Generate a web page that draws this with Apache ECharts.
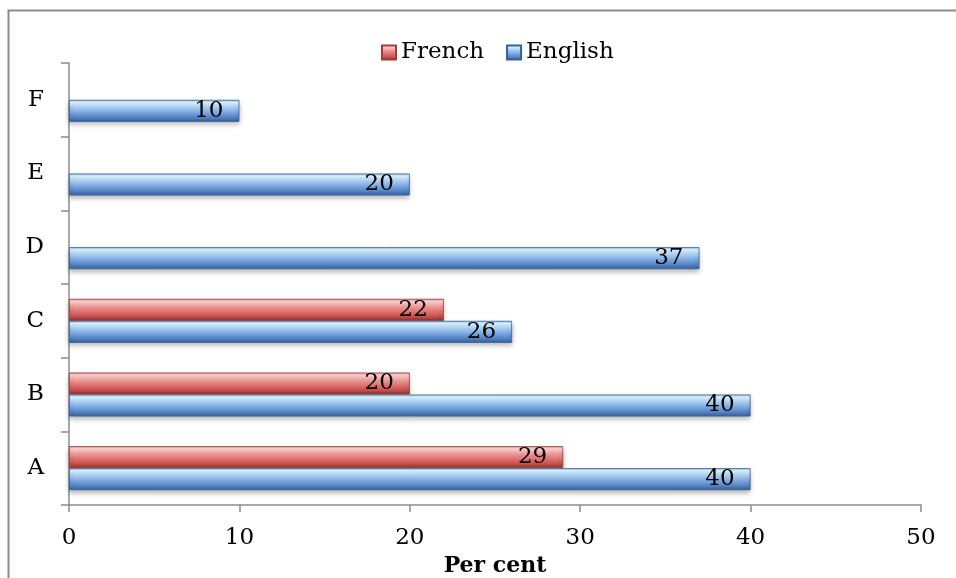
<!DOCTYPE html>
<html>
<head>
<meta charset="utf-8">
<script src="https://cdn.jsdelivr.net/npm/echarts@6/dist/echarts.min.js"></script>
<style>
  html, body { margin: 0; padding: 0; background: #fff; }
  #myChart { width: 956px; height: 578px; }
</style>
</head>
<body>
<div id="myChart"></div>
<script>
  // data
  let categories = ['A', 'B', 'C', 'D', 'E', 'F'];
  let french = [29, 20, 22, null, null, null];
  let english = [40, 40, 26, 37, 20, 10];
  let xTicks = [0, 10, 20, 30, 40, 50];

  let font = 'DejaVu Serif';
  let fs = 23;

  function grad(stops) {
    return new echarts.graphic.LinearGradient(0, 0, 0, 1, stops.map(function (s) {
      return {offset: s[0], color: s[1]};
    }));
  }

  let redFill = grad([[0, '#e08e8c'], [0.12, '#ffd6d6'], [0.4, '#eb908d'], [0.8, '#c84f4c'], [1, '#8a302d']]);
  let blueFill = grad([[0, '#93bbe8'], [0.12, '#e0f7ff'], [0.4, '#9cc4ef'], [0.8, '#5283c4'], [1, '#385f96']]);

  let myChart = echarts.init(document.getElementById('myChart'));

  let options = {
    animation: false,
    textStyle: {fontFamily: font},
    graphic: [{
      type: 'rect',
      shape: {x: 8.5, y: 10.5, width: 1200, height: 900},
      style: {fill: 'none', stroke: '#8c8c8c', lineWidth: 2}
    }],
    legend: {
      data: ['French', 'English'],
      top: 36,
      left: 376,
      itemWidth: 14,
      itemHeight: 14,
      itemGap: 22,
      icon: 'rect',
      textStyle: {fontFamily: font, fontSize: fs, color: '#000'}
    },
    grid: {left: 69, right: 35, top: 63, bottom: 73, outerBoundsMode: 'none'},
    xAxis: {
      type: 'value',
      min: 0,
      max: 50,
      interval: 10,
      name: 'Per cent',
      nameLocation: 'middle',
      nameGap: 50,
      nameTextStyle: {fontFamily: font, fontSize: 22, fontWeight: 'bold', color: '#000'},
      axisLine: {show: true, lineStyle: {color: '#8c8c8c', width: 1.5}},
      axisTick: {show: true, length: 7, lineStyle: {color: '#8c8c8c', width: 1.5}},
      axisLabel: {
        margin: 22, fontFamily: font, fontSize: fs, color: '#000',
        formatter: function (v) { return xTicks.indexOf(v) >= 0 ? String(v) : ''; }
      },
      splitLine: {show: false}
    },
    yAxis: {
      type: 'category',
      data: categories,
      axisLine: {show: true, lineStyle: {color: '#8c8c8c', width: 1.5}},
      axisTick: {show: true, length: 8, lineStyle: {color: '#8c8c8c', width: 1.5}},
      axisLabel: {margin: 25, fontFamily: font, fontSize: fs, color: '#000'},
      splitLine: {show: false}
    },
    series: [
      {
        name: 'French',
        type: 'bar',
        barWidth: 22,
        barGap: '0%',
        data: french,
        itemStyle: {
          color: redFill,
          borderColor: '#a03c39',
          borderWidth: 0.8,
          shadowColor: 'rgba(0,0,0,0.3)',
          shadowBlur: 5,
          shadowOffsetY: 3
        },
        label: {
          show: true, position: 'insideRight', distance: 16,
          fontFamily: font, fontSize: fs, color: '#000'
        }
      },
      {
        name: 'English',
        type: 'bar',
        barWidth: 22,
        barGap: '0%',
        data: english,
        itemStyle: {
          color: blueFill,
          borderColor: '#36609a',
          borderWidth: 0.8,
          shadowColor: 'rgba(0,0,0,0.3)',
          shadowBlur: 5,
          shadowOffsetY: 3
        },
        label: {
          show: true, position: 'insideRight', distance: 16,
          fontFamily: font, fontSize: fs, color: '#000'
        }
      }
    ]
  };
  myChart.setOption(options);
</script>
</body>
</html>
